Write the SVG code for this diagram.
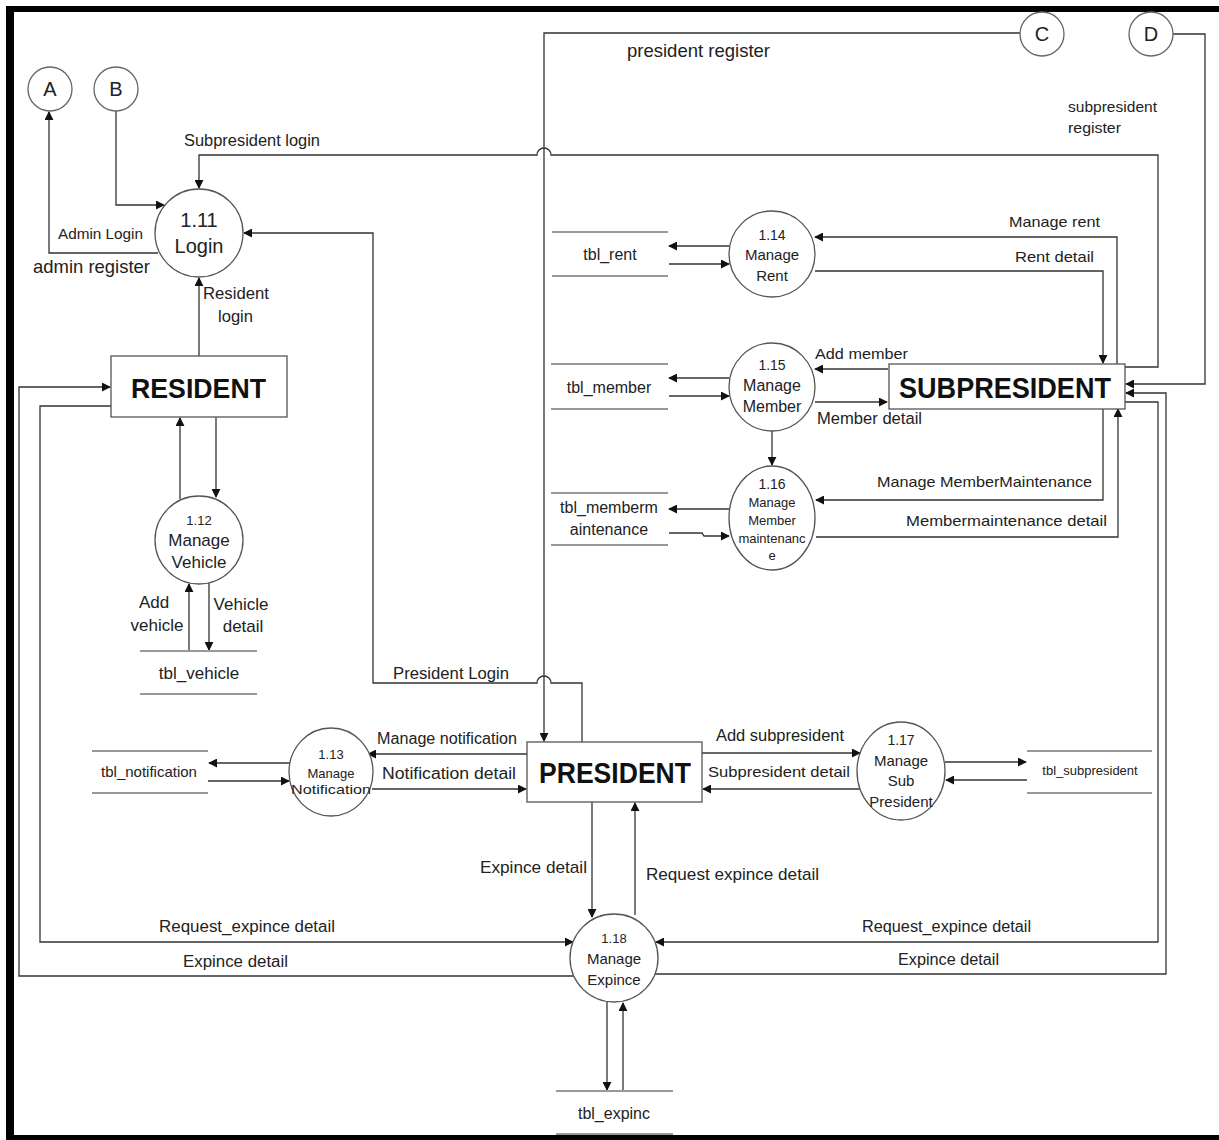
<svg xmlns="http://www.w3.org/2000/svg" width="1219" height="1140" viewBox="0 0 1219 1140">
<defs>
<marker id="ah" viewBox="0 0 10 10" refX="9" refY="5" markerWidth="9" markerHeight="9" markerUnits="userSpaceOnUse" orient="auto">
<path d="M0,0 L10,5 L0,10 z" fill="#111"/>
</marker>
<style>
.frame{stroke:#000;fill:none}
.proc{fill:#fff;stroke:#555;stroke-width:1.3}
.conn{fill:#fff;stroke:#666;stroke-width:1.3}
.ent{fill:#fff;stroke:#555;stroke-width:1.3}
.store{stroke:#999;stroke-width:2}
.c{fill:none;stroke:#333;stroke-width:1.3;marker-end:url(#ah)}
.cn{fill:none;stroke:#333;stroke-width:1.3}
text{font-family:"Liberation Sans",Arial,sans-serif;fill:#222}
.m{text-anchor:middle}
.b{font-weight:bold;fill:#111}
</style>
</defs>
<rect width="1219" height="1140" fill="#fff"/>
<g id="frame">
<line class="frame" x1="10" y1="9" x2="1219" y2="9" stroke-width="6"/>
<line class="frame" x1="10" y1="6" x2="10" y2="1140" stroke-width="8"/>
<line class="frame" x1="6" y1="1138" x2="1219" y2="1138" stroke-width="6"/>
</g>
<g id="connectors">
<path class="c" d="M158,253 H49 V112"/>
<path class="c" d="M116,111 V205 H164"/>
<path class="c" d="M1125,367 H1158 V155 H551 A7,7 0 0 0 537,155 H199 V188"/>
<path class="c" d="M582,742 V683 H551 A7,7 0 0 0 537,683 H373 V233 H244"/>
<path class="c" d="M199,356 V278"/>
<path class="c" d="M1020,33 H544 V741"/>
<path class="c" d="M1173,34 H1205 V384 H1126"/>
<path class="c" d="M1117,364 V237 H815"/>
<path class="c" d="M815,271 H1103 V363"/>
<path class="c" d="M729,246 H669"/>
<path class="c" d="M669,264 H729"/>
<path class="c" d="M729,378 H669"/>
<path class="c" d="M669,396 H729"/>
<path class="c" d="M888,369 H815"/>
<path class="c" d="M815,402 H887"/>
<path class="c" d="M772,431 V465"/>
<path class="c" d="M729,509 H669"/>
<path class="c" d="M669,533 H702 L704,536 H729"/>
<path class="c" d="M1103,408 V500 H816"/>
<path class="c" d="M816,537 H1118 V409"/>
<path class="c" d="M216,417 V497"/>
<path class="c" d="M180,499 V418"/>
<path class="c" d="M189,651 V584"/>
<path class="c" d="M209,583 V650"/>
<path class="c" d="M290,763 H209"/>
<path class="c" d="M208,781 H289"/>
<path class="c" d="M527,754 H368"/>
<path class="c" d="M372,789 H526"/>
<path class="c" d="M702,753 H860"/>
<path class="c" d="M861,789 H703"/>
<path class="c" d="M945,762 H1026"/>
<path class="c" d="M1027,780 H946"/>
<path class="c" d="M592,802 V917"/>
<path class="c" d="M635,915 V803"/>
<path class="c" d="M111,406 H40 V942 H573"/>
<path class="c" d="M574,976 H19 V387 H110"/>
<path class="c" d="M1125,402 H1158 V942 H656"/>
<path class="c" d="M654,974 H1166 V393 H1126"/>
<path class="c" d="M607,1002 V1090"/>
<path class="c" d="M623,1091 V1003"/>
</g>
<g id="A"><circle class="conn" cx="50" cy="89" r="22"/><text class="m" x="50" y="96" font-size="20">A</text></g>
<g id="B"><circle class="conn" cx="116" cy="89" r="22"/><text class="m" x="116" y="96" font-size="20">B</text></g>
<g id="C"><circle class="conn" cx="1042" cy="34" r="22"/><text class="m" x="1042" y="41" font-size="20">C</text></g>
<g id="D"><circle class="conn" cx="1151" cy="34" r="22"/><text class="m" x="1151" y="41" font-size="20">D</text></g>
<g id="p111"><circle class="proc" cx="199" cy="233" r="44"/><text class="m" x="199" y="227" font-size="20">1.11</text><text class="m" x="199" y="253" font-size="20">Login</text></g>
<g id="resident"><rect class="ent" x="111" y="356" width="176" height="61"/><text class="b" x="131" y="398" font-size="28" textLength="135" lengthAdjust="spacingAndGlyphs">RESIDENT</text></g>
<g id="p112"><circle class="proc" cx="199" cy="540" r="44"/><text class="m" x="199" y="525" font-size="13">1.12</text><text class="m" x="199" y="546" font-size="17">Manage</text><text class="m" x="199" y="568" font-size="17">Vehicle</text></g>
<g id="tbl_vehicle"><line class="store" x1="140" y1="651" x2="257" y2="651"/><line class="store" x1="140" y1="694" x2="257" y2="694"/><text class="m" x="199" y="679" font-size="17">tbl_vehicle</text></g>
<g id="p113"><ellipse class="proc" cx="331" cy="772" rx="42" ry="44"/><text class="m" x="331" y="759" font-size="13">1.13</text><text class="m" x="331" y="778" font-size="13">Manage</text><text class="m" x="331" y="794" font-size="13" textLength="80" lengthAdjust="spacingAndGlyphs">Notification</text></g>
<g id="tbl_notification"><line class="store" x1="92" y1="751" x2="208" y2="751"/><line class="store" x1="92" y1="793" x2="208" y2="793"/><text class="m" x="149" y="777" font-size="15">tbl_notification</text></g>
<g id="president"><rect class="ent" x="527" y="742" width="175" height="60"/><text class="b" x="539" y="783" font-size="30" textLength="152" lengthAdjust="spacingAndGlyphs">PRESIDENT</text></g>
<g id="p117"><ellipse class="proc" cx="901" cy="771" rx="44" ry="49"/><text class="m" x="901" y="745" font-size="14">1.17</text><text class="m" x="901" y="766" font-size="15">Manage</text><text class="m" x="901" y="786" font-size="15">Sub</text><text class="m" x="901" y="807" font-size="15">President</text></g>
<g id="tbl_subpresident"><line class="store" x1="1027" y1="751" x2="1152" y2="751"/><line class="store" x1="1027" y1="793" x2="1152" y2="793"/><text class="m" x="1090" y="775" font-size="13">tbl_subpresident</text></g>
<g id="p118"><circle class="proc" cx="614" cy="958" r="44"/><text class="m" x="614" y="943" font-size="13">1.18</text><text class="m" x="614" y="964" font-size="15">Manage</text><text class="m" x="614" y="985" font-size="15">Expince</text></g>
<g id="tbl_expinc"><line class="store" x1="556" y1="1091" x2="673" y2="1091"/><line class="store" x1="556" y1="1134" x2="673" y2="1134"/><text class="m" x="614" y="1119" font-size="16">tbl_expinc</text></g>
<g id="p114"><ellipse class="proc" cx="772" cy="254" rx="43" ry="43"/><text class="m" x="772" y="240" font-size="14">1.14</text><text class="m" x="772" y="260" font-size="15">Manage</text><text class="m" x="772" y="281" font-size="15">Rent</text></g>
<g id="tbl_rent"><line class="store" x1="552" y1="232" x2="668" y2="232"/><line class="store" x1="552" y1="276" x2="668" y2="276"/><text class="m" x="610" y="260" font-size="16">tbl_rent</text></g>
<g id="p115"><ellipse class="proc" cx="772" cy="387" rx="43" ry="44"/><text class="m" x="772" y="370" font-size="14">1.15</text><text class="m" x="772" y="391" font-size="16">Manage</text><text class="m" x="772" y="412" font-size="16">Member</text></g>
<g id="tbl_member"><line class="store" x1="551" y1="364" x2="668" y2="364"/><line class="store" x1="551" y1="409" x2="668" y2="409"/><text class="m" x="609" y="393" font-size="16">tbl_member</text></g>
<g id="p116"><ellipse class="proc" cx="772" cy="518" rx="43" ry="52"/><text class="m" x="772" y="489" font-size="14">1.16</text><text class="m" x="772" y="507" font-size="13">Manage</text><text class="m" x="772" y="525" font-size="13">Member</text><text class="m" x="772" y="543" font-size="13">maintenanc</text><text class="m" x="772" y="560" font-size="13">e</text></g>
<g id="tbl_membermaintenance"><line class="store" x1="551" y1="493" x2="668" y2="493"/><line class="store" x1="551" y1="545" x2="668" y2="545"/><text class="m" x="609" y="513" font-size="16">tbl_memberm</text><text class="m" x="609" y="535" font-size="16">aintenance</text></g>
<g id="subpresident"><rect class="ent" x="889" y="364" width="236" height="45"/><text class="b" x="899" y="398" font-size="30" textLength="212" lengthAdjust="spacingAndGlyphs">SUBPRESIDENT</text></g>
<g id="labels">
<text x="184" y="146" font-size="16" textLength="136" lengthAdjust="spacingAndGlyphs">Subpresident login</text>
<text x="58" y="239" font-size="15" textLength="85" lengthAdjust="spacingAndGlyphs">Admin Login</text>
<text x="33" y="273" font-size="19" textLength="117" lengthAdjust="spacingAndGlyphs">admin register</text>
<text x="203" y="299" font-size="17" textLength="66" lengthAdjust="spacingAndGlyphs">Resident</text>
<text x="218" y="322" font-size="17" textLength="35" lengthAdjust="spacingAndGlyphs">login</text>
<text class="m" x="154" y="608" font-size="17">Add</text>
<text class="m" x="157" y="631" font-size="17">vehicle</text>
<text class="m" x="241" y="610" font-size="17">Vehicle</text>
<text class="m" x="243" y="632" font-size="17">detail</text>
<text x="393" y="679" font-size="17" textLength="116" lengthAdjust="spacingAndGlyphs">President Login</text>
<text x="627" y="57" font-size="19" textLength="143" lengthAdjust="spacingAndGlyphs">president register</text>
<text x="1068" y="112" font-size="15" textLength="89" lengthAdjust="spacingAndGlyphs">subpresident</text>
<text x="1068" y="133" font-size="15" textLength="53" lengthAdjust="spacingAndGlyphs">register</text>
<text x="1009" y="227" font-size="15" textLength="91" lengthAdjust="spacingAndGlyphs">Manage rent</text>
<text x="1015" y="262" font-size="15" textLength="79" lengthAdjust="spacingAndGlyphs">Rent detail</text>
<text x="815" y="359" font-size="15" textLength="93" lengthAdjust="spacingAndGlyphs">Add member</text>
<text x="817" y="424" font-size="16" textLength="105" lengthAdjust="spacingAndGlyphs">Member detail</text>
<text x="877" y="487" font-size="15" textLength="215" lengthAdjust="spacingAndGlyphs">Manage MemberMaintenance</text>
<text x="906" y="526" font-size="15" textLength="201" lengthAdjust="spacingAndGlyphs">Membermaintenance detail</text>
<text x="377" y="744" font-size="16" textLength="140" lengthAdjust="spacingAndGlyphs">Manage notification</text>
<text x="382" y="779" font-size="16" textLength="134" lengthAdjust="spacingAndGlyphs">Notification detail</text>
<text x="716" y="741" font-size="16" textLength="128" lengthAdjust="spacingAndGlyphs">Add subpresident</text>
<text x="708" y="777" font-size="15" textLength="142" lengthAdjust="spacingAndGlyphs">Subpresident detail</text>
<text x="480" y="873" font-size="17" textLength="107" lengthAdjust="spacingAndGlyphs">Expince detail</text>
<text x="646" y="880" font-size="17" textLength="173" lengthAdjust="spacingAndGlyphs">Request expince detail</text>
<text x="159" y="932" font-size="16" textLength="176" lengthAdjust="spacingAndGlyphs">Request_expince detail</text>
<text x="183" y="967" font-size="16" textLength="105" lengthAdjust="spacingAndGlyphs">Expince detail</text>
<text x="862" y="932" font-size="16" textLength="169" lengthAdjust="spacingAndGlyphs">Request_expince detail</text>
<text x="898" y="965" font-size="16" textLength="101" lengthAdjust="spacingAndGlyphs">Expince detail</text>
</g>
</svg>
